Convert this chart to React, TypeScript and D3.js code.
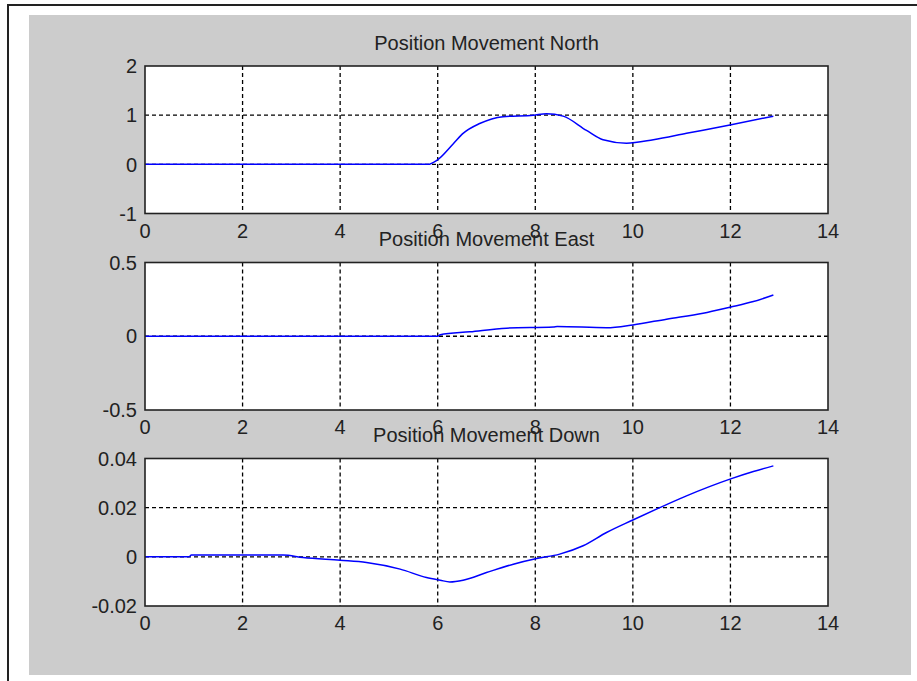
import React from "react";
import * as d3 from "d3";

const xTicks = [0, 2, 4, 6, 8, 10, 12, 14];

const northX = [0, 5.8, 5.98, 6.32, 6.52, 6.86, 7.34, 7.96, 8.23, 8.57, 9.05, 9.39, 9.87, 10.42, 11.1, 11.99, 12.88];
const northY = [0, 0, 0.08, 0.42, 0.63, 0.83, 0.97, 1.0, 1.03, 0.98, 0.69, 0.5, 0.43, 0.5, 0.63, 0.8, 0.98];
const northTicks = [-1, 0, 1, 2];

const eastX = [0, 6.0, 6.05, 6.66, 7.41, 8.37, 8.45, 9.46, 10.0, 10.69, 11.44, 11.99, 12.47, 12.88];
const eastY = [0, 0, 0.01, 0.03, 0.055, 0.062, 0.066, 0.058, 0.077, 0.116, 0.156, 0.197, 0.235, 0.28];
const eastTicks = [-0.5, 0, 0.5];

const downX = [0, 0.9, 0.95, 2.83, 3.24, 4.0, 4.54, 5.23, 5.77, 6.05, 6.25, 6.52, 7.0, 7.55, 8.03, 8.5, 8.98, 9.46, 10.0, 10.55, 11.1, 11.99, 12.47, 12.88];
const downY = [0, 0, 0.0007, 0.0007, -0.0003, -0.0014, -0.0023, -0.005, -0.0084, -0.0095, -0.0102, -0.0095, -0.0064, -0.003, -0.0007, 0.0011, 0.0045, 0.0099, 0.015, 0.02, 0.0248, 0.0316, 0.0347, 0.037];
const downTicks = [-0.02, 0, 0.02, 0.04];

const titles = ["Position Movement North", "Position Movement East", "Position Movement Down"];

const W = 917;
const H = 681;
const LEFT = 145;
const RIGHT = 828;
const PH = 147.5;
const TOPS = [66, 262.5, 458.5];
const FONT = "'Liberation Sans', Arial, sans-serif";

type Panel = { title: string; xs: number[]; ys: number[]; ticks: number[] };

const panels: Panel[] = [
  { title: titles[0], xs: northX, ys: northY, ticks: northTicks },
  { title: titles[1], xs: eastX, ys: eastY, ticks: eastTicks },
  { title: titles[2], xs: downX, ys: downY, ticks: downTicks },
];

function PanelView({ p, top }: { p: Panel; top: number }) {
  const x = d3.scaleLinear().domain([0, 14]).range([LEFT, RIGHT]);
  const ext = d3.extent(p.ticks) as [number, number];
  const y = d3.scaleLinear().domain(ext).range([top + PH, top]);
  const pts = p.xs.map((v, i) => [v, p.ys[i]] as [number, number]);
  const line = d3
    .line<[number, number]>()
    .x((d) => x(d[0]))
    .y((d) => y(d[1]))
    .curve(d3.curveMonotoneX);
  const bottom = top + PH;
  return (
    <g>
      <rect x={LEFT} y={top} width={RIGHT - LEFT} height={PH} fill="#fff" />
      {xTicks.slice(1, -1).map((t) => (
        <line key={"gx" + t} x1={x(t)} x2={x(t)} y1={top} y2={bottom} stroke="#000" strokeWidth={1.3} strokeDasharray="4,3" />
      ))}
      {p.ticks.slice(1, -1).map((t) => (
        <line key={"gy" + t} x1={LEFT} x2={RIGHT} y1={y(t)} y2={y(t)} stroke="#000" strokeWidth={1.3} strokeDasharray="4,3" />
      ))}
      <path d={line(pts) || ""} fill="none" stroke="#0000ff" strokeWidth={1.5} />
      <rect x={LEFT} y={top} width={RIGHT - LEFT} height={PH} fill="none" stroke="#222" strokeWidth={1.6} />
      {xTicks.map((t) => (
        <text key={"tx" + t} x={x(t)} y={bottom + 24} textAnchor="middle" fontFamily={FONT} fontSize={20} fill="#222">
          {t}
        </text>
      ))}
      {p.ticks.map((t) => (
        <text key={"ty" + t} x={LEFT - 8} y={y(t)} dy="0.36em" textAnchor="end" fontFamily={FONT} fontSize={20} fill="#222">
          {String(t)}
        </text>
      ))}
      <text x={(LEFT + RIGHT) / 2} y={top - 16.5} textAnchor="middle" fontFamily={FONT} fontSize={20} fill="#222">
        {p.title}
      </text>
    </g>
  );
}

export default function App() {
  return (
    <svg width={W} height={H} style={{ position: "absolute", left: 0, top: 0, background: "#fff" }}>
      <rect x={8} y={5} width={W + 20} height={H + 20} fill="#fff" stroke="#222" strokeWidth={2} />
      <rect x={29} y={15} width={882} height={660} fill="#cccccc" />
      {panels.map((p, i) => (
        <PanelView key={i} p={p} top={TOPS[i]} />
      ))}
    </svg>
  );
}
